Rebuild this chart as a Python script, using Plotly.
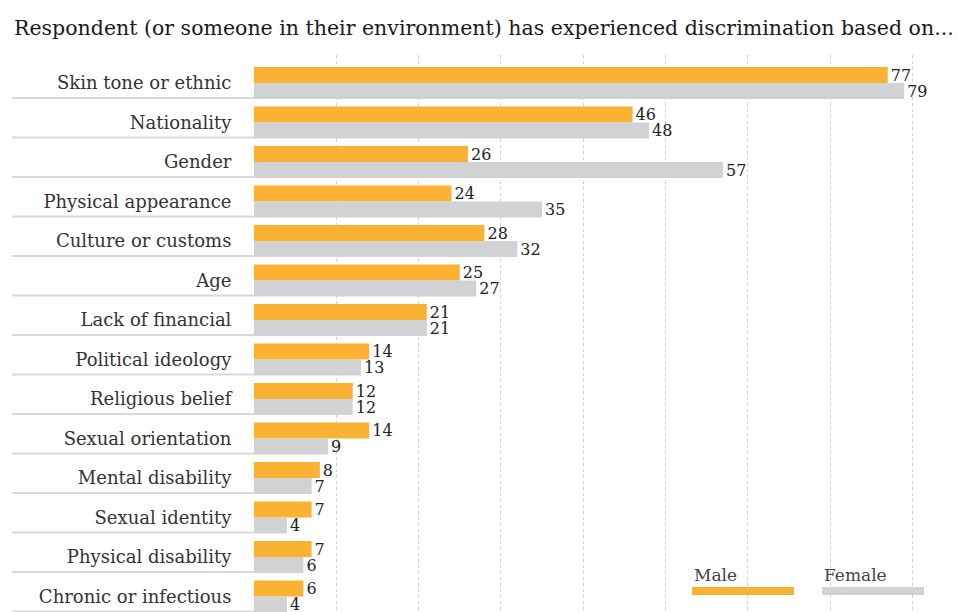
import plotly.graph_objects as go

categories = ["Skin tone or ethnic", "Nationality", "Gender", "Physical appearance",
              "Culture or customs", "Age", "Lack of financial", "Political ideology",
              "Religious belief", "Sexual orientation", "Mental disability",
              "Sexual identity", "Physical disability", "Chronic or infectious"]
male = [77, 46, 26, 24, 28, 25, 21, 14, 12, 14, 8, 7, 7, 6]
female = [79, 48, 57, 35, 32, 27, 21, 13, 12, 9, 7, 4, 6, 4]
series_names = ["Male", "Female"]
colors = ["#FBB131", "#D1D2D4"]
title = "Respondent (or someone in their environment) has experienced discrimination based on..."

FONT = "DejaVu Serif"
W, H = 957, 612
L, T = 254, 55

ypos = list(range(len(categories)))
fig = go.Figure()
for name, vals, col in zip(series_names, [male, female], colors):
    fig.add_trace(go.Bar(
        y=ypos, x=vals, orientation="h", name=name,
        marker=dict(color=col, line=dict(width=0)),
        text=[str(v) for v in vals], textposition="outside",
        textfont=dict(family=FONT, size=16, color="#222"),
        constraintext="none", cliponaxis=False, textangle=0,
    ))

px_per_cat = 39.5
plot_h = H - T
span = plot_h / px_per_cat
top = -(83 - T) / px_per_cat
fig.update_layout(
    width=W, height=H, margin=dict(l=L, r=0, t=T, b=0),
    barmode="group", bargap=0.19, bargroupgap=0,
    plot_bgcolor="white", paper_bgcolor="white", showlegend=False,
    xaxis=dict(range=[0, (W - L) / 8.23], dtick=10, showgrid=True, gridcolor="#d0d0d0",
               griddash="dot", gridwidth=1, zeroline=False, showticklabels=False,
               showline=False, fixedrange=True),
    yaxis=dict(range=[top + span, top], tickmode="array", tickvals=ypos,
               ticktext=categories, ticks="outside", ticklen=18, tickcolor="rgba(0,0,0,0)",
               tickfont=dict(family=FONT, size=18, color="#333"),
               showgrid=False, zeroline=False, showline=False),
    font=dict(family=FONT),
)

fig.add_annotation(text=title, xref="paper", yref="paper",
                   x=(12 - L) / (W - L), y=1 + (T - 28) / plot_h, xanchor="left", yanchor="middle",
                   showarrow=False, font=dict(family=FONT, size=20.5, color="#1a1a1a"))

# separators under category labels
for i in ypos:
    fig.add_shape(type="line", xref="paper", yref="y",
                  x0=(12 - L) / (W - L), x1=0, y0=i + 0.38, y1=i + 0.38,
                  line=dict(color="#d9d9d9", width=2), layer="below")

# custom legend
leg_x = [692, 822]
for name, col, lx in zip(series_names, colors, leg_x):
    fig.add_annotation(text=name, xref="paper", yref="paper",
                       x=(lx - L) / (W - L), y=1 - (575 - T) / plot_h,
                       xanchor="left", yanchor="middle", showarrow=False,
                       font=dict(family=FONT, size=17, color="#444"))
    fig.add_shape(type="rect", xref="paper", yref="paper",
                  x0=(lx - L) / (W - L), x1=(lx + 102 - L) / (W - L),
                  y0=1 - (595 - T) / plot_h, y1=1 - (587 - T) / plot_h,
                  fillcolor=col, line=dict(width=0))

fig.write_html("out.html")
